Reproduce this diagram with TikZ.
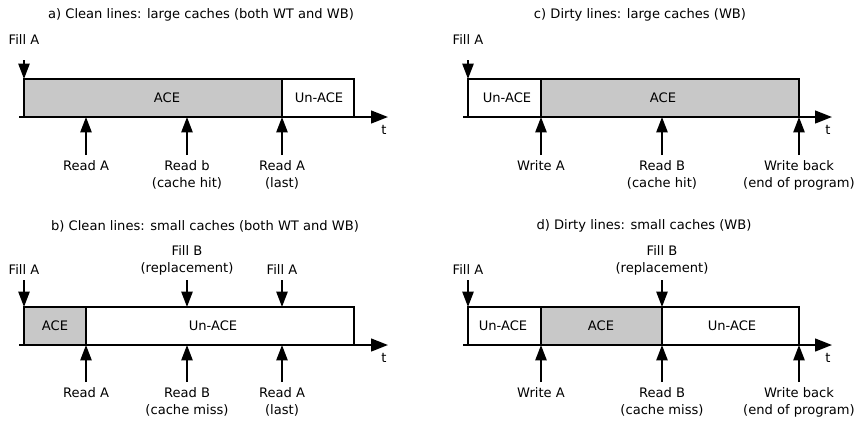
\documentclass[tikz,border=0pt]{standalone}
\usepackage{fontspec}
\setmainfont{DejaVu Sans}
\usetikzlibrary{arrows.meta}
\definecolor{acegray}{RGB}{200,200,200}
\tikzset{
  lbl/.style={align=center,inner sep=3.5pt,font=\fontsize{9.3}{12.1}\selectfont},
  seg/.style={draw,line width=1.5pt},
  aceseg/.style={seg,fill=acegray},
  axis/.style={line width=1.5pt,-{Triangle[length=12pt,width=9pt]}},
  ev/.style={line width=1.4pt,-{Triangle[length=11pt,width=8pt]}},
}
\begin{document}
\begin{tikzpicture}[x=0.025cm,y=-0.025cm]
  \useasboundingbox (0,0) rectangle (860,423);
  % a) clean lines, large caches
  \node[lbl] (ta) at (201,15) {a) Clean lines: large caches (both WT and WB)};
  \filldraw[aceseg] (24,79) rectangle (282,117);
  \draw[seg] (282,79) rectangle (354,117);
  \node[lbl] (aceA) at (167,98) {ACE};
  \node[lbl] (unA) at (319,98) {Un-ACE};
  \coordinate (a0) at (19,117);
  \coordinate (a9) at (388,117);
  \draw[axis] (a0) -- (a9);
  \node[lbl] (tA) at (384,130) {t};
  \coordinate (pa0) at (24,79);
  \coordinate (pa1) at (86,117);
  \coordinate (pa2) at (187,117);
  \coordinate (pa3) at (282,117);
  \node[lbl,anchor=base] (fa0) at (24,44) {Fill A};
  \node[lbl,anchor=north] (ra1) at (86,155) {Read A};
  \node[lbl,anchor=north] (ra2) at (187,155) {Read b\\(cache hit)};
  \node[lbl,anchor=north] (ra3) at (282,155) {Read A\\(last)};
  \draw[ev,shorten <=7.8pt] (fa0) -- (pa0);
  \draw[ev] (ra1) -- (pa1);
  \draw[ev] (ra2) -- (pa2);
  \draw[ev] (ra3) -- (pa3);

  % c) dirty lines, large caches
  \node[lbl] (tc) at (640,15) {c) Dirty lines: large caches (WB)};
  \draw[seg] (468,79) rectangle (541,117);
  \filldraw[aceseg] (541,79) rectangle (799,117);
  \node[lbl] (unC) at (507,98) {Un-ACE};
  \node[lbl] (aceC) at (663,98) {ACE};
  \coordinate (c0) at (463,117);
  \coordinate (c9) at (832,117);
  \draw[axis] (c0) -- (c9);
  \node[lbl] (tC) at (828,130) {t};
  \coordinate (pc0) at (468,79);
  \coordinate (pc1) at (541,117);
  \coordinate (pc2) at (662,117);
  \coordinate (pc3) at (799,117);
  \node[lbl,anchor=base] (fc0) at (468,44) {Fill A};
  \node[lbl,anchor=north] (rc1) at (541,155) {Write A};
  \node[lbl,anchor=north] (rc2) at (662,155) {Read B\\(cache hit)};
  \node[lbl,anchor=north] (rc3) at (799,155) {Write back\\(end of program)};
  \draw[ev,shorten <=7.8pt] (fc0) -- (pc0);
  \draw[ev] (rc1) -- (pc1);
  \draw[ev] (rc2) -- (pc2);
  \draw[ev] (rc3) -- (pc3);

  % b) clean lines, small caches
  \node[lbl] (tb) at (205,226) {b) Clean lines: small caches (both WT and WB)};
  \filldraw[aceseg] (24,307) rectangle (86,345);
  \draw[seg] (86,307) rectangle (354,345);
  \node[lbl] (aceB) at (55,326) {ACE};
  \node[lbl] (unB) at (213,326) {Un-ACE};
  \coordinate (b0) at (19,345);
  \coordinate (b9) at (388,345);
  \draw[axis] (b0) -- (b9);
  \node[lbl] (tB) at (384,358) {t};
  \coordinate (qb0) at (24,307);
  \coordinate (qb1) at (187,307);
  \coordinate (qb2) at (282,307);
  \coordinate (pb1) at (86,345);
  \coordinate (pb2) at (187,345);
  \coordinate (pb3) at (282,345);
  \node[lbl,anchor=south] (fb0) at (24,280) {Fill A};
  \node[lbl,anchor=south] (fb1) at (187,280) {Fill B\\(replacement)};
  \node[lbl,anchor=south] (fb2) at (282,280) {Fill A};
  \node[lbl,anchor=north] (rb1) at (86,382) {Read A};
  \node[lbl,anchor=north] (rb2) at (187,382) {Read B\\(cache miss)};
  \node[lbl,anchor=north] (rb3) at (282,382) {Read A\\(last)};
  \draw[ev] (fb0) -- (qb0);
  \draw[ev] (fb1) -- (qb1);
  \draw[ev] (fb2) -- (qb2);
  \draw[ev] (rb1) -- (pb1);
  \draw[ev] (rb2) -- (pb2);
  \draw[ev] (rb3) -- (pb3);

  % d) dirty lines, small caches
  \node[lbl] (td) at (644,226) {d) Dirty lines: small caches (WB)};
  \draw[seg] (468,307) rectangle (541,345);
  \filldraw[aceseg] (541,307) rectangle (662,345);
  \draw[seg] (662,307) rectangle (799,345);
  \node[lbl] (unD1) at (503,326) {Un-ACE};
  \node[lbl] (aceD) at (601,326) {ACE};
  \node[lbl] (unD2) at (732,326) {Un-ACE};
  \coordinate (d0) at (463,345);
  \coordinate (d9) at (832,345);
  \draw[axis] (d0) -- (d9);
  \node[lbl] (tD) at (828,358) {t};
  \coordinate (qd0) at (468,307);
  \coordinate (qd1) at (662,307);
  \coordinate (pd1) at (541,345);
  \coordinate (pd2) at (662,345);
  \coordinate (pd3) at (799,345);
  \node[lbl,anchor=south] (fd0) at (468,280) {Fill A};
  \node[lbl,anchor=south] (fd1) at (662,280) {Fill B\\(replacement)};
  \node[lbl,anchor=north] (rd1) at (541,382) {Write A};
  \node[lbl,anchor=north] (rd2) at (662,382) {Read B\\(cache miss)};
  \node[lbl,anchor=north] (rd3) at (799,382) {Write back\\(end of program)};
  \draw[ev] (fd0) -- (qd0);
  \draw[ev] (fd1) -- (qd1);
  \draw[ev] (rd1) -- (pd1);
  \draw[ev] (rd2) -- (pd2);
  \draw[ev] (rd3) -- (pd3);
\end{tikzpicture}
\end{document}
